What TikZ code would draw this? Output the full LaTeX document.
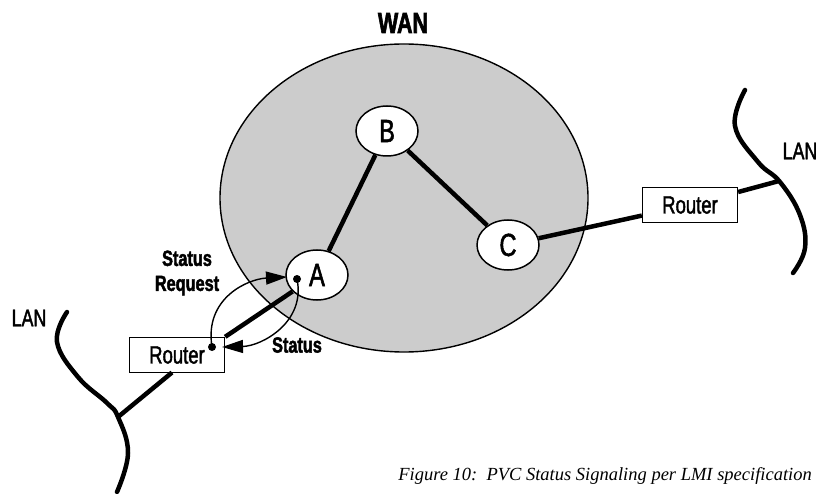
\documentclass[tikz,border=0pt]{standalone}
\usepackage{fontspec}
\usetikzlibrary{shapes.geometric,arrows.meta}
\newfontfamily\condfont[FakeStretch=0.74,FakeBold=1.6]{Liberation Sans}
\newfontfamily\condbold[FakeStretch=0.74,FakeBold=2]{Liberation Sans Bold}
\newfontfamily\capfont{Liberation Serif}
\definecolor{wangray}{HTML}{CCCCCC}
\begin{document}
\begin{tikzpicture}[x=1pt,y=-1pt,
  site/.style={ellipse,draw,line width=1.5pt,fill=white,minimum width=62pt,minimum height=50pt,inner sep=0pt,
    font=\condfont\fontsize{32}{32}\selectfont},
  routerbox/.style={rectangle,draw,line width=1.3pt,fill=white,minimum width=95pt,minimum height=35pt,inner sep=0pt,
    font=\condfont\fontsize{25}{25}\selectfont},
  thickline/.style={line width=4.5pt},
  lancurve/.style={line width=4.5pt,line cap=round},
  thinarc/.style={line width=1.4pt},
  lbl/.style={font=\condfont\fontsize{24}{24}\selectfont,inner sep=0pt},
  boldlbl/.style={font=\condbold\fontsize{22}{25}\selectfont,inner sep=0pt,align=center},
  bigtip/.style={-{Triangle[length=21pt,width=13pt]}},
  dotmark/.style={circle,fill=black,inner sep=0pt,minimum size=8pt}
]
\useasboundingbox[fill=white] (0,0) rectangle (816,494);

% WAN cloud
\draw[fill=wangray,line width=1.4pt] (404,198) ellipse [x radius=184, y radius=154];
\node[font=\condbold\fontsize{29}{29}\selectfont,inner sep=0pt] (wan) at (403,23) {WAN};

% LAN curves
\draw[lancurve] plot[smooth,tension=0.7] coordinates {(745,90) (735,126) (758,162) (780,182) (800,215) (805,248) (793,273)};
\draw[lancurve] plot[smooth,tension=0.7] coordinates {(67,312) (57,342) (78,377) (107,403) (118,417) (128,453) (117,492)};
\coordinate (lanR) at (779,181);
\coordinate (lanL) at (118,417);
\node[lbl] (lanRlbl) at (800,151) {LAN};
\node[lbl] (lanLlbl) at (29,318) {LAN};

% sites
\node[site] (B) at (387,131) {B};
\node[site] (A) at (317,275) {A};
\node[site] (C) at (508,245) {C};

% routers
\node[routerbox] (R2) at (690,205) {Router};
\node[routerbox] (R1) at (177,355) {Router};
\coordinate (R1b) at (172,372.5);

% links
\draw[thickline] (B) -- (A);
\draw[thickline] (B) -- (C);
\draw[thickline] (C) -- (R2);
\draw[thickline] (R2) -- (lanR);
\draw[thickline] (R1b) -- (lanL);
\draw[thickline] (R1.north east) -- (A);

% signaling arcs
\node[dotmark] (d1) at (212,347) {};
\node[dotmark] (d2) at (297,279) {};
\coordinate (tipA) at (287,277);
\coordinate (tipR) at (222,347);
\draw[thinarc,bigtip] (d1.center) .. controls (204,298) and (248,279) .. (tipA);
\draw[thinarc,bigtip] (d2.center) .. controls (306,322) and (262,346) .. (tipR);

\node[boldlbl] (req) at (187,273) {Status\\Request};
\node[boldlbl] (st) at (297,345) {Status};

% caption
\node[anchor=base east,inner sep=0pt,font=\capfont\itshape\fontsize{18.5}{18.5}\selectfont] (cap) at (812,480)
  {Figure 10:\ \ PVC Status Signaling per LMI specification};
\end{tikzpicture}
\end{document}
